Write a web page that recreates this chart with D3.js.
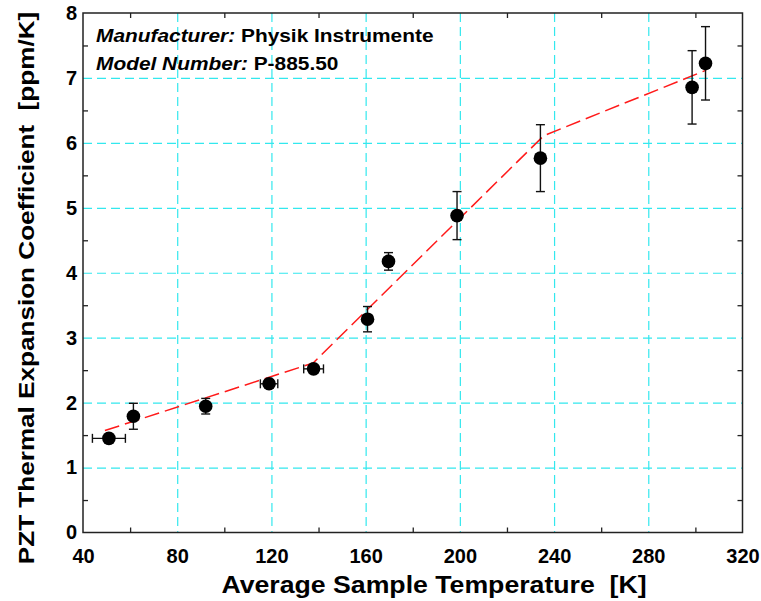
<!DOCTYPE html>
<html lang="en">
<head>
  <meta charset="UTF-8">
  <title>PZT thermal expansion coefficient</title>
  <script src="https://d3js.org/d3.v7.min.js"></script>
  <style>
    body { margin: 0; background: #fff; }
    svg { display: block; font-family: "Liberation Sans", Arial, sans-serif; }
    .grid line { stroke: #33e8ee; stroke-width: 1.2px; stroke-dasharray: 9,5; }
    .grid path { display: none; }
    .ticks path { display: none; }
    .ticks line { stroke: #222; stroke-width: 1.3px; }
    .lbl text { font-size: 20px; font-weight: bold; fill: #000; }
    .lbl path, .lbl line { display: none; }
  </style>
</head>
<body>
<div id="chart"></div>
<script>

// measured points (temperature K, coefficient ppm/K) with error bars
var tempK    = [51.0, 61.4, 92.1, 119.0, 137.9, 160.8, 169.7, 198.8, 234.2, 298.6, 304.3];
var alpha    = [1.45, 1.79, 1.945, 2.29, 2.52, 3.285, 4.175, 4.88, 5.765, 6.855, 7.225];
var alphaErr = [0, 0.20, 0.12, 0, 0, 0.195, 0.135, 0.37, 0.515, 0.565, 0.565];
var tempErr  = [7.0, 0, 0, 3.7, 4.2, 0, 0, 0, 0, 0, 0];

// red dashed fit
var fitT = [49.3, 137.7, 235.6, 304.6];
var fitA = [1.57, 2.61, 6.11, 7.12];

var xTicks = [40, 80, 120, 160, 200, 240, 280, 320];
var yTicks = [0, 1, 2, 3, 4, 5, 6, 7, 8];
var xMinor = [60, 100, 140, 180, 220, 260, 300];
var yMinor = [0.5, 1.5, 2.5, 3.5, 4.5, 5.5, 6.5, 7.5];

var W = 761, H = 601;
var margin = {top: 13, right: 18.5, bottom: 68.5, left: 83};
var width = W - margin.left - margin.right,
    height = H - margin.top - margin.bottom;
var stretch = 1.16; // the original lettering is a bit wide

var svg = d3.select("#chart").append("svg")
    .attr("width", W)
    .attr("height", H);

svg.append("rect").attr("width", W).attr("height", H).attr("fill", "#fff");

var g = svg.append("g").attr("transform", "translate(" + margin.left + "," + margin.top + ")");

var x = d3.scaleLinear().domain([40, 320]).range([0, width]);
var y = d3.scaleLinear().domain([0, 8]).range([height, 0]);

// grid
g.append("g").attr("class", "grid")
    .call(d3.axisBottom(x).tickValues(xTicks.slice(1, -1)).tickSize(height).tickFormat(""));
g.append("g").attr("class", "grid")
    .call(d3.axisLeft(y).tickValues(yTicks.slice(1, -1)).tickSize(-width).tickFormat(""));

// minor ticks pointing in, on all four sides
g.append("g").attr("class", "ticks").attr("transform", "translate(0," + height + ")")
    .call(d3.axisBottom(x).tickValues(xMinor).tickSize(-5).tickFormat(""));
g.append("g").attr("class", "ticks")
    .call(d3.axisTop(x).tickValues(xMinor).tickSize(-5).tickFormat(""));
g.append("g").attr("class", "ticks")
    .call(d3.axisLeft(y).tickValues(yMinor).tickSize(-5).tickFormat(""));
g.append("g").attr("class", "ticks").attr("transform", "translate(" + width + ",0)")
    .call(d3.axisRight(y).tickValues(yMinor).tickSize(-5).tickFormat(""));

// tick labels
g.append("g").attr("class", "lbl").attr("transform", "translate(0," + height + ")")
    .call(d3.axisBottom(x).tickValues(xTicks).tickSize(0).tickPadding(16).tickFormat(d3.format("d")));
g.append("g").attr("class", "lbl")
    .call(d3.axisLeft(y).tickValues(yTicks).tickSize(0).tickPadding(6).tickFormat(d3.format("d")));

// fit line
var line = d3.line()
    .x(function(d, i) { return x(fitT[i]); })
    .y(function(d, i) { return y(d); });

g.append("path")
    .datum(fitA)
    .attr("d", line)
    .attr("fill", "none")
    .attr("stroke", "#ff1a1a")
    .attr("stroke-width", 1.5)
    .attr("stroke-dasharray", "15,6");

// error bars
var pts = g.append("g");
var cap = 4.5;
tempK.forEach(function(t, i) {
  var a = alpha[i];
  if (alphaErr[i] > 0) {
    var y0 = y(a - alphaErr[i]), y1 = y(a + alphaErr[i]);
    pts.append("line").attr("x1", x(t)).attr("x2", x(t)).attr("y1", y0).attr("y2", y1);
    pts.append("line").attr("x1", x(t) - cap).attr("x2", x(t) + cap).attr("y1", y0).attr("y2", y0);
    pts.append("line").attr("x1", x(t) - cap).attr("x2", x(t) + cap).attr("y1", y1).attr("y2", y1);
  }
  if (tempErr[i] > 0) {
    var x0 = x(t - tempErr[i]), x1 = x(t + tempErr[i]);
    pts.append("line").attr("x1", x0).attr("x2", x1).attr("y1", y(a)).attr("y2", y(a));
    pts.append("line").attr("x1", x0).attr("x2", x0).attr("y1", y(a) - cap).attr("y2", y(a) + cap);
    pts.append("line").attr("x1", x1).attr("x2", x1).attr("y1", y(a) - cap).attr("y2", y(a) + cap);
  }
});
pts.selectAll("line").attr("stroke", "#111").attr("stroke-width", 1.4);

pts.selectAll("circle")
    .data(tempK)
  .enter().append("circle")
    .attr("cx", function(d) { return x(d); })
    .attr("cy", function(d, i) { return y(alpha[i]); })
    .attr("r", 6.8)
    .attr("fill", "#000");

// frame
g.append("rect")
    .attr("width", width)
    .attr("height", height)
    .attr("fill", "none")
    .attr("stroke", "#222")
    .attr("stroke-width", 1.5);

// annotation
var notes = [["Manufacturer:", " Physik Instrumente"], ["Model Number:", " P-885.50"]];
notes.forEach(function(n, i) {
  var t = g.append("text")
      .attr("transform", "translate(13," + (29 + i * 27.5) + ") scale(" + stretch + ",1)")
      .style("font-size", "18px").style("font-weight", "bold");
  t.append("tspan").style("font-style", "italic").text(n[0]);
  t.append("tspan").text(n[1]);
});

// axis titles
svg.append("text")
    .attr("transform", "translate(434,593) scale(" + stretch + ",1)")
    .attr("text-anchor", "middle")
    .style("font-size", "23px").style("font-weight", "bold")
    .style("white-space", "pre")
    .text("Average Sample Temperature  [K]");

svg.append("text")
    .attr("transform", "translate(34,288) rotate(-90) scale(" + stretch + ",1)")
    .attr("text-anchor", "middle")
    .style("font-size", "22.5px").style("font-weight", "bold")
    .style("white-space", "pre")
    .text("PZT Thermal Expansion Coefficient  [ppm/K]");

</script>
</body>
</html>
